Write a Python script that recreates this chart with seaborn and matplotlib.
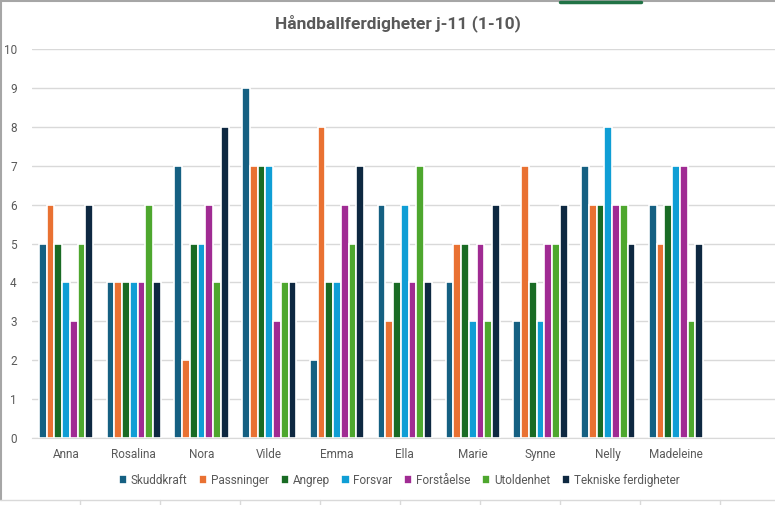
import matplotlib.pyplot as plt
import seaborn as sns
import pandas as pd
from matplotlib.lines import Line2D

# Data (scores 1-10)
players = ['Anna', 'Rosalina', 'Nora', 'Vilde', 'Emma', 'Ella', 'Marie', 'Synne', 'Nelly', 'Madeleine']
skills = ['Skuddkraft', 'Passninger', 'Angrep', 'Forsvar', 'Forståelse', 'Utoldenhet', 'Tekniske ferdigheter']

skuddkraft = [5, 4, 7, 9, 2, 6, 4, 3, 7, 6]
passninger = [6, 4, 2, 7, 8, 3, 5, 7, 6, 5]
angrep = [5, 4, 5, 7, 4, 4, 5, 4, 6, 6]
forsvar = [4, 4, 5, 7, 4, 6, 3, 3, 8, 7]
forstaelse = [3, 4, 6, 3, 6, 4, 5, 5, 6, 7]
utoldenhet = [5, 6, 4, 4, 5, 7, 3, 5, 6, 3]
tekniske = [6, 4, 8, 4, 7, 4, 6, 6, 5, 5]

colors = ['#156082', '#E97132', '#196B24', '#0F9ED5', '#A02B93', '#4EA72E', '#0E2841']

# Long format table for seaborn
series = [skuddkraft, passninger, angrep, forsvar, forstaelse, utoldenhet, tekniske]
rows = []
for skill, vals in zip(skills, series):
    for p, v in zip(players, vals):
        rows.append({'Spiller': p, 'Ferdighet': skill, 'Score': v})
df = pd.DataFrame(rows)

# Excel leaves one empty category slot at the end
order = players + [' ']

sns.set_style("white")
plt.rcParams['font.family'] = ['Roboto', 'DejaVu Sans']
grey = '#595959'

fig = plt.figure(figsize=(7.75, 5.05), dpi=100)
ax = fig.add_axes([0.0413, 0.1327, 0.9587, 0.770])

sns.barplot(data=df, x='Spiller', y='Score', hue='Ferdighet', order=order,
            hue_order=skills, palette=colors, width=0.8, saturation=1,
            edgecolor='white', linewidth=1.2, ax=ax, legend=True)

ax.set_ylim(0, 10)
ax.set_yticks(range(0, 11))
ax.set_xlim(-0.5, 10.46)
ax.yaxis.grid(True, color='#D9D9D9', linewidth=1)
ax.set_axisbelow(True)
for s in ['top', 'right', 'left']:
    ax.spines[s].set_visible(False)
ax.spines['bottom'].set_color('#D9D9D9')
ax.tick_params(axis='both', length=0, labelsize=8.5, labelcolor=grey)
ax.tick_params(axis='x', pad=7)
ax.tick_params(axis='y', pad=11)
ax.set_xlabel('')
ax.set_ylabel('')

fig.text(0.513, 0.955, 'Håndballferdigheter j-11 (1-10)', ha='center', va='center',
         fontsize=12.5, fontweight='bold', color=grey)

handles, labels = ax.get_legend_handles_labels()
ax.legend(handles, labels, loc='center', bbox_to_anchor=(0.515, 0.049),
          bbox_transform=fig.transFigure, ncol=7, frameon=False, fontsize=8.5,
          handlelength=0.7, handleheight=0.7, handletextpad=0.3, columnspacing=1.0,
          labelcolor=grey)

# chart frame and spreadsheet cells around it
fig.add_artist(Line2D([0.001, 0.001], [0.01, 1], color='#A6A6A6', lw=1.5, transform=fig.transFigure))
fig.add_artist(Line2D([0, 1], [0.998, 0.998], color='#A6A6A6', lw=1.5, transform=fig.transFigure))
fig.add_artist(Line2D([560 / 775, 641 / 775], [0.997, 0.997], color='#217346', lw=2.5, transform=fig.transFigure))
fig.add_artist(Line2D([0, 1], [0.01, 0.01], color='#D9D9D9', lw=1, transform=fig.transFigure))
for xc in range(80, 775, 80):
    fig.add_artist(Line2D([xc / 775, xc / 775], [0, 0.01], color='#D9D9D9', lw=1, transform=fig.transFigure))

plt.savefig('out.png', dpi=100)
